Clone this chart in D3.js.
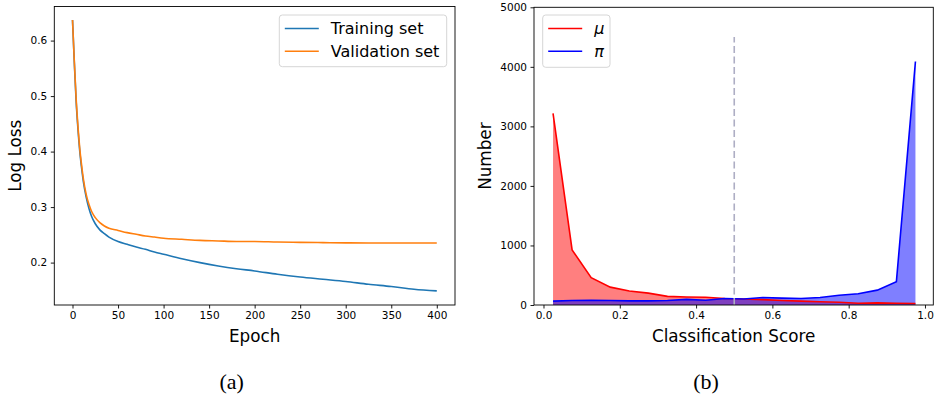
<!DOCTYPE html>
<html>
<head>
<meta charset="utf-8">
<script src="https://cdn.jsdelivr.net/npm/d3@7"></script>
<style>
  body { margin: 0; background: #fff; }
  svg { display: block; font-family: "DejaVu Sans", sans-serif; }
</style>
</head>
<body>
<svg id="chart" width="937" height="398"></svg>
<script>
// left panel: loss curves
var epochs = [0, 2, 4, 6, 8, 10, 12, 15, 18, 21, 25, 30, 35, 40, 50, 60, 70, 80, 90, 100,
  120, 140, 160, 180, 200, 225, 250, 275, 300, 325, 350, 375, 400]
var trainLoss = [0.637, 0.56, 0.49, 0.44, 0.40, 0.37, 0.345, 0.318, 0.298, 0.283, 0.270, 0.259, 0.252, 0.246, 0.238, 0.233, 0.228, 0.224, 0.219, 0.215,
  0.207, 0.200, 0.194, 0.189, 0.185, 0.179, 0.174, 0.170, 0.166, 0.161, 0.157, 0.152, 0.149]
var validLoss = [0.637, 0.562, 0.495, 0.445, 0.405, 0.375, 0.35, 0.323, 0.305, 0.292, 0.281, 0.272, 0.266, 0.262, 0.258, 0.254, 0.251, 0.248, 0.246, 0.244,
  0.242, 0.240, 0.239, 0.238, 0.238, 0.237, 0.2365, 0.236, 0.2355, 0.2352, 0.2352, 0.2352, 0.2353]
var lossTicksX = [0, 50, 100, 150, 200, 250, 300, 350, 400]
var lossTicksY = [0.2, 0.3, 0.4, 0.5, 0.6]

// right panel: score histograms
var binCenters = [0.025, 0.075, 0.125, 0.175, 0.225, 0.275, 0.325, 0.375, 0.425, 0.475,
  0.525, 0.575, 0.625, 0.675, 0.725, 0.775, 0.825, 0.875, 0.925, 0.975]
var muCounts = [3220, 925, 460, 300, 235, 200, 145, 135, 130, 110,
  100, 90, 75, 65, 55, 45, 30, 35, 30, 25]
var piCounts = [65, 75, 80, 75, 70, 70, 75, 95, 80, 110,
  100, 125, 115, 110, 125, 165, 190, 250, 390, 4090]
var scoreTicksX = [0.0, 0.2, 0.4, 0.6, 0.8, 1.0]
var countTicksY = [0, 1000, 2000, 3000, 4000, 5000]
var cutScore = 0.5, cutTop = 4500

var svg = d3.select("#chart")

function frame(g, x0, y0, x1, y1) {
  g.append("rect")
    .attr("x", x0).attr("y", y0)
    .attr("width", x1 - x0).attr("height", y1 - y0)
    .attr("fill", "none").attr("stroke", "#000").attr("stroke-width", 0.9)
}

function axes(g, x, y, xt, yt, xfmt, yfmt, x0, y1) {
  g.append("g")
    .attr("transform", `translate(0,${y1})`)
    .call(d3.axisBottom(x).tickValues(xt).tickFormat(xfmt).tickSize(3.5).tickPadding(3.5))
    .call(a => a.select(".domain").remove())
  g.append("g")
    .attr("transform", `translate(${x0},0)`)
    .call(d3.axisLeft(y).tickValues(yt).tickFormat(yfmt).tickSize(3.5).tickPadding(3.5))
    .call(a => a.select(".domain").remove())
  g.selectAll(".tick text").attr("font-size", 10.5).attr("fill", "#000")
    .attr("font-family", "DejaVu Sans")
  g.selectAll(".tick line").attr("stroke", "#000").attr("stroke-width", 0.9)
}

function legend(g, x0, y0, w, h, items, italic) {
  g.append("rect")
    .attr("x", x0).attr("y", y0).attr("width", w).attr("height", h)
    .attr("rx", 3).attr("fill", "#fff").attr("fill-opacity", 0.8)
    .attr("stroke", "#d6d6d6")
  items.forEach((it, i) => {
    var yy = y0 + 13.5 + i * 22.8
    g.append("line")
      .attr("x1", x0 + 5.5).attr("x2", x0 + 39.5)
      .attr("y1", yy).attr("y2", yy)
      .attr("stroke", it.color).attr("stroke-width", 1.6)
    g.append("text")
      .attr("x", x0 + 51.5).attr("y", yy + 5.5)
      .attr("font-size", 16).attr("font-style", italic ? "italic" : "normal")
      .text(it.label)
  })
}

// ---- (a) ----
var L = {x0: 54.3, x1: 455, y0: 6.5, y1: 305}
var gA = svg.append("g")
var xA = d3.scaleLinear().domain([-20, 420]).range([L.x0, L.x1])
var yA = d3.scaleLinear().domain([0.1236, 0.6614]).range([L.y1, L.y0])

var lossLine = vals => d3.line()
  .x((d, i) => xA(epochs[i]))
  .y(d => yA(d))
  .curve(d3.curveMonotoneX)(vals)

gA.append("path").attr("d", lossLine(trainLoss))
  .attr("fill", "none").attr("stroke", "#1f77b4").attr("stroke-width", 1.6)
gA.append("path").attr("d", lossLine(validLoss))
  .attr("fill", "none").attr("stroke", "#ff7f0e").attr("stroke-width", 1.6)

frame(gA, L.x0, L.y0, L.x1, L.y1)
axes(gA, xA, yA, lossTicksX, lossTicksY, d3.format("d"), d3.format(".1f"), L.x0, L.y1)

gA.append("text").attr("x", (L.x0 + L.x1) / 2).attr("y", 341.5)
  .attr("text-anchor", "middle").attr("font-size", 16.8).text("Epoch")
gA.append("text").attr("transform", `translate(21,${(L.y0 + L.y1) / 2}) rotate(-90)`)
  .attr("text-anchor", "middle").attr("font-size", 16.8).text("Log Loss")
legend(gA, 279.3, 15, 167.4, 51.7, [
  {label: "Training set", color: "#1f77b4"},
  {label: "Validation set", color: "#ff7f0e"}
], false)
gA.append("text").attr("x", 231.7).attr("y", 389)
  .attr("text-anchor", "middle").attr("font-size", 22)
  .attr("font-family", "Liberation Serif").text("(a)")

// ---- (b) ----
var R = {x0: 534, x1: 933.3, y0: 7.3, y1: 305}
var gB = svg.append("g")
var xB = d3.scaleLinear().domain([-0.0249, 1.0218]).range([R.x0, R.x1])
var yB = d3.scaleLinear().domain([0, 5000]).range([R.y1, R.y0])

var area = d3.area()
  .x((d, i) => xB(binCenters[i]))
  .y0(yB(0))
  .y1(d => yB(d))
var line = d3.line()
  .x((d, i) => xB(binCenters[i]))
  .y(d => yB(d))

gB.append("path").attr("d", area(muCounts)).attr("fill", "#ff0000").attr("fill-opacity", 0.5)
gB.append("path").attr("d", area(piCounts)).attr("fill", "#0000ff").attr("fill-opacity", 0.5)
gB.append("path").attr("d", line(muCounts))
  .attr("fill", "none").attr("stroke", "#ff0000").attr("stroke-width", 1.6)
gB.append("path").attr("d", line(piCounts))
  .attr("fill", "none").attr("stroke", "#0000ff").attr("stroke-width", 1.6)

gB.append("line")
  .attr("x1", xB(cutScore)).attr("x2", xB(cutScore))
  .attr("y1", yB(0)).attr("y2", yB(cutTop))
  .attr("stroke", "#aeaec4").attr("stroke-width", 1.6)
  .attr("stroke-dasharray", "7,3.5")

frame(gB, R.x0, R.y0, R.x1, R.y1)
axes(gB, xB, yB, scoreTicksX, countTicksY, d3.format(".1f"), d3.format("d"), R.x0, R.y1)

gB.append("text").attr("x", (R.x0 + R.x1) / 2).attr("y", 341.5)
  .attr("text-anchor", "middle").attr("font-size", 16.8).text("Classification Score")
gB.append("text").attr("transform", `translate(491,${(R.y0 + R.y1) / 2}) rotate(-90)`)
  .attr("text-anchor", "middle").attr("font-size", 16.8).text("Number")
legend(gB, 542.7, 15, 67.3, 52.3, [
  {label: "μ", color: "#ff0000"},
  {label: "π", color: "#0000ff"}
], true)
gB.append("text").attr("x", 706).attr("y", 389)
  .attr("text-anchor", "middle").attr("font-size", 22)
  .attr("font-family", "Liberation Serif").text("(b)")
</script>
</body>
</html>
